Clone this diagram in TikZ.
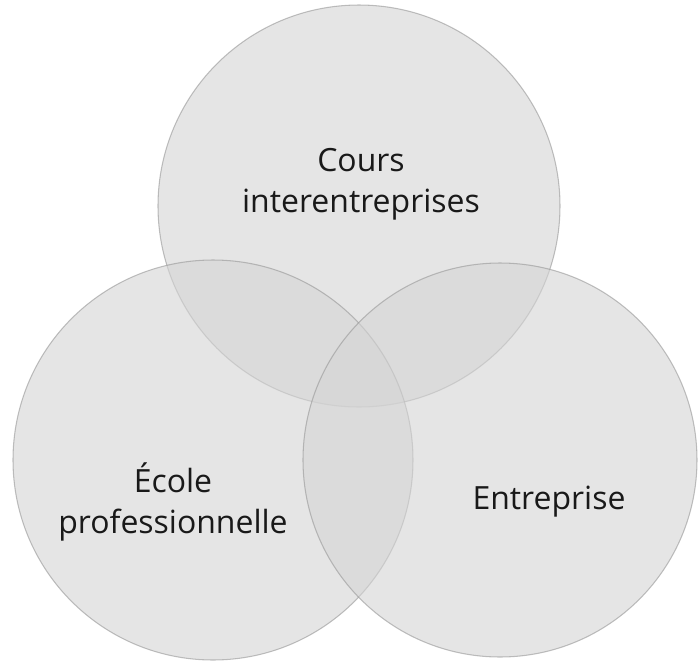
\documentclass[tikz,border=0pt]{standalone}
\usepackage{fontspec}
\setmainfont{Open Sans}
\usepackage{tikz}

\definecolor{discfill}{RGB}{212,212,212}
\definecolor{discrim}{RGB}{150,150,150}
\tikzset{disc/.style={fill=discfill, fill opacity=0.6, draw=discrim, draw opacity=0.6, line width=0.6pt},
  label/.style={align=center, font=\fontsize{18.2}{23.5}\selectfont, text=black!90}}

\begin{document}
\begin{tikzpicture}[x=0.02cm, y=-0.02cm]
\useasboundingbox (0,0) rectangle (698,664);

\draw[disc] (359,206) circle (201) ;
\draw[disc] (213,460) circle (200) ;
\draw[disc] (500,460) circle (197) ;

\draw (361,184) node[label] (cours) {Cours\\interentreprises} ;
\draw (173,502) node[label] (ecole) {École\\professionnelle} ;
\draw (549,502) node[label] (entreprise) {Entreprise} ;

\end{tikzpicture}
\end{document}
